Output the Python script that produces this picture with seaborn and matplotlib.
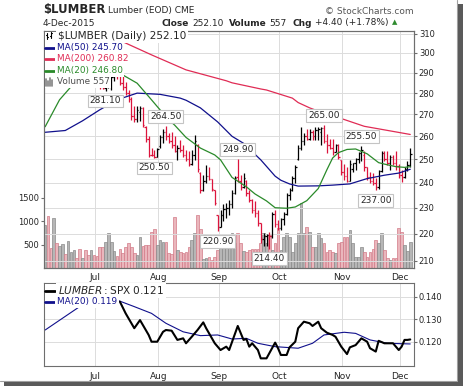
import numpy as np
import matplotlib.pyplot as plt
import seaborn as sns
from matplotlib.lines import Line2D
from matplotlib.patches import Rectangle
from matplotlib.ticker import NullLocator

sns.set_style('white')
plt.rcParams['font.family'] = ['DejaVu Sans']
plt.rcParams['axes.linewidth'] = 0.8

# Datos: dia de bolsa 0 = 5-Jun-2015 ... 127 = 4-Dec-2015
month_labels = ['Jul', 'Aug', 'Sep', 'Oct', 'Nov', 'Dec']
month_first_day = [18, 40, 61, 82, 104, 124]

opens = [295, 298, 296, 293, 297, 295, 298, 302, 299, 301,
         304, 306, 302, 298, 300, 296, 292, 294, 289, 286,
         283.5, 282.5, 283.5, 286, 288, 290, 289, 285, 283, 280,
         277, 269, 268, 271, 273, 264, 259, 252, 251.8, 251,
         255.5, 259.5, 262, 260, 258, 256, 253.5, 255, 254, 252,
         250, 248, 252, 256, 244, 237, 241, 243, 241.5, 237,
         227, 222.5, 227, 229.5, 230, 231.5, 236, 242.5, 241, 238.5,
         241, 236, 233, 229, 228, 224, 218, 219, 219.5, 219,
         227.5, 223.5, 222, 225.5, 227.5, 235, 237, 242, 250, 255,
         258, 260, 259, 262, 260, 263, 262, 263.8, 258, 256,
         255, 253, 256, 249.5, 244.5, 243, 241, 246, 248.2, 250,
         252.5, 252, 246.5, 242.5, 241, 240, 238.5, 245, 252.5, 250,
         248.5, 251, 248.5, 247, 243.5, 242.5, 246, 247.7]
highs = [300, 301, 298, 299, 299, 300, 304, 303, 303, 306,
         309, 307, 304, 302, 301, 298, 296, 295, 290, 287,
         284.5, 284, 287, 289, 292, 292, 290, 288.8, 285.5, 281.6,
         278, 274, 274, 274, 273.5, 264.5, 260, 255, 254, 255,
         260.6, 263.5, 264.5, 261.5, 262, 260, 256, 258.4, 256, 254,
         253.5, 254, 260.6, 256.5, 244.5, 243.5, 247.6, 246.7, 241.7, 237.1,
         227.2, 229, 231.5, 232, 233, 237, 243, 249.9, 243.4, 244,
         241.3, 237, 233.5, 232.7, 229, 224, 220.3, 220, 220.5, 228.5,
         229, 225.2, 226, 228.5, 236, 238, 243, 247.5, 256, 264.3,
         261.5, 263.5, 263.5, 263, 264, 264.3, 264, 265, 261, 259,
         258.8, 256.5, 256.5, 249.7, 248, 246.7, 249.7, 248.5, 250.5, 253,
         255.5, 253.5, 246.7, 244.5, 244.3, 242.2, 245.5, 253.5, 253.5, 253.5,
         251.8, 251.8, 253.5, 248, 245.5, 246.7, 249, 255]
lows = [293, 294, 291, 292, 293, 294, 297, 297, 298, 300,
        303, 300, 296, 297, 294, 290, 291, 288, 284, 282,
        282, 281.1, 282.5, 281.6, 286, 287, 284, 281.6, 279, 275.8,
        267.4, 266.5, 266.5, 267, 264, 257.5, 251, 251.5, 250.5, 250.8,
        255, 257, 258.4, 257, 255, 253, 249.5, 253, 251, 249,
        247, 247.5, 249.7, 244.6, 235.9, 236.5, 240, 241.3, 236.7, 231.1,
        220.9, 222.5, 225, 226, 227, 230, 235.5, 240.5, 237, 238,
        234.7, 232.3, 228, 226.5, 223, 216.5, 215.3, 215.5, 214.4, 218.5,
        222.5, 221.4, 221.5, 223.3, 227, 233, 236.5, 240, 249.7, 253.9,
        256, 258.4, 258.4, 258.4, 258.4, 258.4, 256, 257, 252.5, 254.5,
        251.8, 253, 250, 243.4, 241.3, 240.3, 241, 244.5, 245.5, 248.5,
        249, 245, 241.3, 240, 239.2, 237, 237.5, 244.5, 249.1, 247.6,
        245.5, 247.6, 245.5, 242, 240.3, 242, 245, 246.7]
closes = [298, 296, 293, 297, 295, 298, 302, 299, 301, 304,
          306, 302, 298, 300, 296, 292, 294, 290, 286, 283.5,
          282.5, 283.5, 286, 288, 290, 289, 285, 283, 280, 277,
          269, 268, 272, 273, 265, 259, 252, 251.8, 251, 254.5,
          259.5, 262, 260, 258, 256, 253.5, 255, 254, 252, 250,
          248, 252, 258, 246, 237, 241, 243, 241.5, 237.5, 232,
          222.5, 227, 229.5, 230, 231.5, 236, 242, 241, 238.5, 242,
          236, 233, 229, 228, 224, 218, 219, 219.5, 219, 227.5,
          223.5, 222, 225.5, 227.5, 235, 237, 242, 246.5, 255, 258,
          260, 259, 262, 260, 263, 263.5, 263.8, 258, 256, 255,
          253, 256, 251, 244.5, 243, 241, 248, 248.2, 250, 252.5,
          254, 246.5, 242.5, 241, 240, 238.5, 245, 252.5, 250, 248.5,
          251, 248.5, 247, 243.5, 242.5, 246, 247.7, 252.1]
volume = [913, 1105, 417, 1056, 537, 473, 509, 296, 573, 345,
          381, 204, 402, 204, 381, 275, 381, 275, 260, 452,
          452, 545, 737, 558, 360, 253, 396, 311, 439, 524,
          452, 311, 275, 665, 466, 488, 488, 771, 828, 488,
          594, 558, 558, 311, 296, 1078, 381, 345, 311, 345,
          452, 594, 737, 1127, 822, 183, 204, 239, 168, 239,
          381, 701, 652, 488, 594, 737, 524, 737, 524, 360,
          332, 381, 396, 396, 396, 524, 750, 524, 701, 381,
          524, 843, 381, 665, 750, 652, 345, 524, 737, 1376,
          737, 865, 771, 439, 439, 737, 630, 524, 345, 381,
          345, 311, 524, 558, 665, 665, 807, 524, 239, 239,
          439, 345, 239, 345, 396, 594, 524, 737, 381, 204,
          161, 204, 204, 843, 771, 488, 367, 557]

ma20_day = [0, 5, 9, 15, 21, 26, 32, 37, 39, 43, 45, 49, 54, 59, 61, 65, 70, 73,
            77, 80, 84, 87, 91, 95, 98, 100, 102, 105, 108, 112, 116, 119, 122,
            125, 127]
ma20_val = [264.3, 276.8, 283.1, 289.0, 291.0, 289.7, 284.8, 276.8, 273.6, 267.4,
            265.1, 259.5, 254.8, 251.8, 249.7, 242.3, 238.4, 235.5, 232.7, 230.0,
            229.8, 230.3, 232.8, 237.7, 245.5, 250.5, 252.8, 254.2, 254.4, 252.3,
            248.5, 247.6, 246.8, 246.5, 246.8]
ma50_day = [0, 7, 13, 19, 25, 32, 40, 47, 49, 54, 60, 65, 69, 75, 80, 82, 85, 88,
            95, 100, 106, 112, 118, 123, 127]
ma50_val = [261.8, 262.6, 267.0, 272.1, 276.8, 280.0, 279.4, 277.6, 276.6, 273.0,
            266.5, 260.0, 256.9, 249.7, 242.8, 241.1, 239.6, 238.7, 238.8, 239.1,
            239.6, 241.8, 243.2, 244.1, 245.7]
ma200_day = [0, 27, 37, 49, 63, 65, 75, 77, 86, 88, 92, 100, 102, 111, 127]
ma200_val = [318.0, 305.8, 299.0, 291.4, 286.0, 285.0, 282.0, 281.5, 277.6, 275.5,
             273.0, 269.0, 268.5, 264.5, 260.82]

ratio_day = [26, 28, 29, 31, 33, 34, 36, 37, 39, 41, 42, 44, 46, 48, 49, 51, 53, 55,
             56, 59, 61, 63, 64, 67, 69, 70, 71, 72, 74, 75, 77, 80, 81, 82, 84, 85,
             87, 88, 90, 92, 93, 95, 96, 98, 100, 101, 103, 105, 106, 108, 110, 112,
             113, 115, 116, 118, 121, 123, 124, 125, 126, 127]
ratio_val = [0.1378, 0.1326, 0.1304, 0.1260, 0.1296, 0.1274, 0.1230, 0.1200, 0.1200,
             0.1244, 0.1252, 0.1249, 0.1208, 0.1215, 0.1193, 0.1222, 0.1252, 0.1286,
             0.1260, 0.1193, 0.1163, 0.1178, 0.1163, 0.1270, 0.1208, 0.1212, 0.1178,
             0.1193, 0.1163, 0.1126, 0.1126, 0.1196, 0.1171, 0.1141, 0.1141, 0.1175,
             0.1200, 0.1260, 0.1289, 0.1282, 0.1270, 0.1289, 0.1260, 0.1240, 0.1230,
             0.1222, 0.1178, 0.1145, 0.1175, 0.1185, 0.1215, 0.1200, 0.1171, 0.1156,
             0.1204, 0.1193, 0.1193, 0.1163, 0.1178, 0.1208, 0.1208, 0.1210]
ratio_ma_day = [0, 12, 18, 25, 31, 37, 42, 48, 54, 60, 65, 70, 74, 80, 88, 93, 97,
                104, 108, 113, 119, 127]
ratio_ma_val = [0.1252, 0.1356, 0.1382, 0.1385, 0.1356, 0.1326, 0.1282, 0.1244,
                0.1227, 0.1230, 0.1212, 0.1215, 0.1193, 0.1178, 0.1171, 0.1193,
                0.1230, 0.1242, 0.1237, 0.1208, 0.1193, 0.1190]

label_day = [21, 38, 42, 60, 67, 78, 97, 110, 115]
label_price = [281.10, 250.50, 264.50, 220.90, 249.90, 214.40, 265.00, 255.50, 237.00]
label_high = [False, False, True, False, True, False, True, True, False]

price_ticks = [210, 220, 230, 240, 250, 260, 270, 280, 290, 300, 310]
volume_ticks = [500, 1000, 1500]
ratio_ticks = [0.12, 0.13, 0.14]

# Colores
RED = '#dc143c'
NAVY = '#10108c'
MA200_C = '#e02c55'
MA20_C = '#2a8a2a'
GRID = '#dcdcdc'
SPINE = '#6e6e6e'

W, H = 464, 387
fig = plt.figure(figsize=(W / 100, H / 100), dpi=100)
renderer = fig.canvas.get_renderer()


def box(x0, y0, x1, y1):
    return [x0 / W, 1 - y1 / H, (x1 - x0) / W, (y1 - y0) / H]


def put(px, py, s, **kw):
    kw.setdefault('va', 'center')
    kw.setdefault('size', 7)
    kw.setdefault('zorder', 6)
    return fig.text(px / W, 1 - py / H, s, **kw)


def put_row(px, py, parts, size):
    x = px
    for s, bold, gap in parts:
        t = put(x, py, s, size=size, weight='bold' if bold else 'normal')
        x += t.get_window_extent(renderer).width + gap
    return x


ax_vol = fig.add_axes(box(44, 31, 414, 268))
ax = ax_vol.twinx()
ax_rel = fig.add_axes(box(44, 283, 414, 366))

days = np.arange(len(closes))
c = np.array(closes)
up = np.r_[c[0] >= opens[0], c[1:] >= c[:-1]]
bar_col = np.where(up, 'black', RED)

# Volumen
ax_vol.bar(days, volume, width=0.92,
           color=np.where(up, '#b6b6b6', '#eab6bc'),
           edgecolor=np.where(up, '#8a8a8a', '#d27a88'), linewidth=0.5)
ax_vol.set_ylim(0, 5043)
ax_vol.set_yticks(volume_ticks, [str(v) for v in volume_ticks])
ax_vol.set_xlim(-0.4, 128.3)
ax_vol.set_xticks(np.array(month_first_day) - 0.6, month_labels)
ax_vol.grid(axis='x', color=GRID, lw=0.7)
ax_vol.set_axisbelow(True)
ax_vol.tick_params(axis='y', left=True, length=2, pad=1.5, labelsize=6, color=SPINE)
ax_vol.tick_params(axis='x', length=0, pad=3.5, labelsize=6.5)

# Precio OHLC
ax.vlines(days, lows, highs, colors=bar_col, lw=0.9)
ax.hlines(opens, days - 0.45, days, colors=bar_col, lw=0.9)
ax.hlines(closes, days, days + 0.45, colors=bar_col, lw=0.9)
sns.lineplot(x=ma200_day, y=ma200_val, ax=ax, color=MA200_C, lw=0.9)
sns.lineplot(x=ma50_day, y=ma50_val, ax=ax, color=NAVY, lw=0.9)
sns.lineplot(x=ma20_day, y=ma20_val, ax=ax, color=MA20_C, lw=0.9)
ax.set_yscale('log')
ax.set_ylim(207.4, 311.5)
ax.set_yticks(price_ticks, [str(t) for t in price_ticks])
ax.yaxis.set_minor_locator(NullLocator())
ax.set_xlim(-0.4, 128.3)
ax.grid(axis='y', color=GRID, lw=0.7)
ax.set_ylabel('')
ax.tick_params(axis='y', right=True, length=2, pad=1.5, labelsize=6, color=SPINE)

for d, p, hi in zip(label_day, label_price, label_high):
    ax.annotate(f'{p:.2f}', xy=(d, p), xytext=(0, 10 if hi else -10),
                textcoords='offset pixels', ha='center', va='center', fontsize=6.5,
                bbox=dict(boxstyle='square,pad=0.2', fc='white', ec='#c4c4c4', lw=0.8),
                zorder=5)

# Panel relativo
sns.lineplot(x=ratio_ma_day, y=ratio_ma_val, ax=ax_rel, color=NAVY, lw=0.8)
sns.lineplot(x=ratio_day, y=ratio_val, ax=ax_rel, color='black', lw=1.5)
ax_rel.set_xlim(-0.4, 128.3)
ax_rel.set_ylim(0.1092, 0.1461)
ax_rel.yaxis.tick_right()
ax_rel.set_yticks(ratio_ticks, [f'{t:.3f}' for t in ratio_ticks])
ax_rel.set_xticks(np.array(month_first_day) - 0.6, month_labels)
ax_rel.grid(True, color=GRID, lw=0.7)
ax_rel.set_xlabel('')
ax_rel.set_ylabel('')
ax_rel.tick_params(axis='y', right=True, length=2, pad=1.5, labelsize=6, color=SPINE)
ax_rel.tick_params(axis='x', length=0, pad=4.5, labelsize=6.5)

for a in (ax_vol, ax, ax_rel):
    for s in a.spines.values():
        s.set_color(SPINE)
        s.set_linewidth(0.8)

# Leyendas (fondo blanco)
fig.add_artist(Rectangle((44.6 / W, 1 - 87.5 / H), 55 / W, 56 / H,
                         transform=fig.transFigure, fc='white', ec='none', zorder=5))
fig.add_artist(Rectangle((44.6 / W, 1 - 306.5 / H), 12.5 / W, 23 / H,
                         transform=fig.transFigure, fc='white', ec='none', zorder=5))
bb = dict(boxstyle='square,pad=0.18', fc='white', ec='none')
put(58, 36, '$LUMBER (Daily) 252.10', size=7.6, bbox=bb)
put(57, 47.5, 'MA(50) 245.70', size=6.4, color=NAVY, bbox=bb)
put(57, 59, 'MA(200) 260.82', size=6.4, color=MA200_C, bbox=bb)
put(57, 70.5, 'MA(20) 246.80', size=6.4, color=MA20_C, bbox=bb)
put(57, 82, 'Volume 557', size=6.4, color='#505050', bbox=bb)
put(58, 290.5, '$LUMBER:$SPX 0.121', size=7.6, bbox=bb)
put(57, 301.5, 'MA(20) 0.119', size=6.4, color=NAVY, bbox=bb)


def seg(x0, y0, x1, y1, col, lw):
    fig.add_artist(Line2D([x0 / W, x1 / W], [1 - y0 / H, 1 - y1 / H],
                          transform=fig.transFigure, color=col, lw=lw, zorder=6))


# iconos
seg(47.5, 33, 47.5, 39, 'black', 0.8)
seg(46.5, 35, 47.5, 35, 'black', 0.8)
seg(47.5, 37, 48.5, 37, 'black', 0.8)
seg(51, 32, 51, 38, 'black', 0.8)
seg(50, 36, 51, 36, 'black', 0.8)
seg(51, 33, 52, 33, 'black', 0.8)
seg(45.5, 47.5, 55.5, 47.5, NAVY, 2.0)
seg(45.5, 59, 55.5, 59, MA200_C, 2.0)
seg(45.5, 70.5, 55.5, 70.5, MA20_C, 2.0)
for bx, top in ((46.5, 79), (48.5, 81), (50.5, 78), (52.5, 80)):
    seg(bx, top, bx, 86, '#808080', 1.2)
seg(45.5, 290.5, 55, 290.5, 'black', 2.0)
seg(45.5, 301.5, 55, 301.5, NAVY, 2.0)

# Encabezado
put(43, 9.5, '$LUMBER', weight='bold', size=8.4)
put(108, 10.3, 'Lumber (EOD) CME', size=6.5)
put(43, 23.3, '4-Dec-2015', size=6.5)
end_x = put_row(162, 23, [('Close', True, 3), ('252.10', False, 5),
                          ('Volume', True, 3), ('557', False, 6),
                          ('Chg', True, 3), ('+4.40 (+1.78%)', False, 3)], 6.5)
put(end_x + 3, 22.5, '\u25b2', color='#2e8b2e', size=5, ha='center')
put(414, 11.7, '\u00a9 StockCharts.com', ha='right', color='#555555', size=6.5)

# Marco y sombra
seg(457.5, 0, 457.5, 380.5, '#a0a0a0', 0.8)
seg(0, 380.5, 457.5, 380.5, '#a0a0a0', 0.8)
fig.add_artist(Rectangle((458.5 / W, 1 - 386 / H), 4.5 / W, 382 / H,
                         transform=fig.transFigure, fc='#5a5a5a', ec='none', zorder=6))
fig.add_artist(Rectangle((4 / W, 1 - 386 / H), 459 / W, 4.5 / H,
                         transform=fig.transFigure, fc='#5a5a5a', ec='none', zorder=6))

fig.savefig('out.png', dpi=100)
